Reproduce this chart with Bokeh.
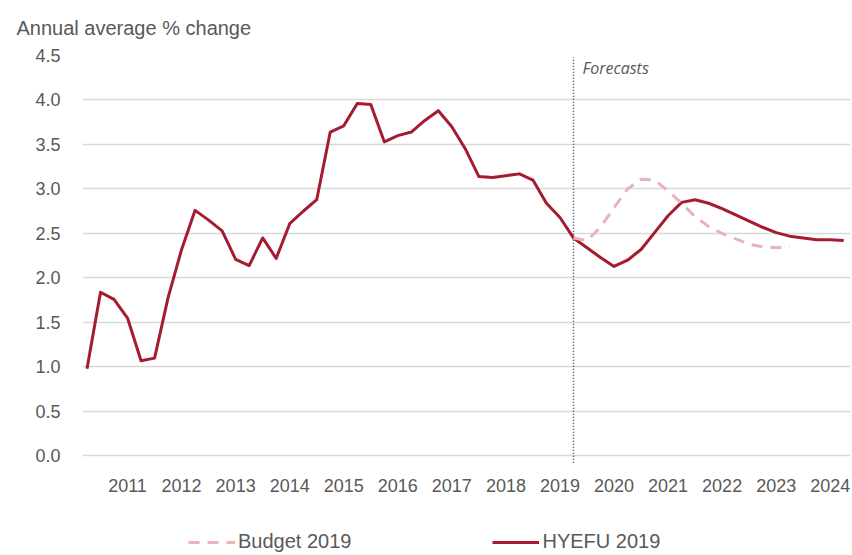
import pandas as pd
from bokeh.plotting import figure
from bokeh.models import (Label, Legend, LegendItem, FixedTicker,
                          NumeralTickFormatter, Range1d, ColumnDataSource)
from bokeh.embed import file_html
from bokeh.resources import INLINE

# ---------------- data ----------------
quarters = [str(q) for q in pd.period_range("2010Q2", "2024Q2", freq="Q")]

hyefu_2019 = [0.98, 1.84, 1.76, 1.55, 1.07, 1.10, 1.78, 2.32, 2.76, 2.65,
              2.53, 2.21, 2.14, 2.45, 2.22, 2.61, 2.75, 2.88, 3.64, 3.71,
              3.96, 3.95, 3.53, 3.60, 3.64, 3.77, 3.88, 3.70, 3.45, 3.14,
              3.13, 3.15, 3.17, 3.10, 2.84, 2.68, 2.45, 2.34, 2.23, 2.13,
              2.20, 2.32, 2.51, 2.70, 2.85, 2.88, 2.84, 2.78, 2.71, 2.64,
              2.57, 2.51, 2.47, 2.45, 2.43, 2.43, 2.42]

budget_quarters = [str(q) for q in pd.period_range("2019Q2", "2023Q2", freq="Q")]
budget_2019 = [2.45, 2.42, 2.57, 2.79, 3.00, 3.11, 3.10, 2.98, 2.84, 2.69,
               2.58, 2.50, 2.44, 2.38, 2.35, 2.34, 2.35]

forecast_start = "2019Q2"
year_labels = ["2011", "2012", "2013", "2014", "2015", "2016", "2017",
               "2018", "2019", "2020", "2021", "2022", "2023", "2024"]
y_ticks = [0.0, 0.5, 1.0, 1.5, 2.0, 2.5, 3.0, 3.5, 4.0, 4.5]

# ---------------- helpers ----------------
qidx = {q: i for i, q in enumerate(quarters)}
year_ticks = [qidx[f"{y}Q1"] for y in year_labels]

src_h = ColumnDataSource(dict(x=[qidx[q] for q in quarters], y=hyefu_2019))
src_b = ColumnDataSource(dict(x=[qidx[q] for q in budget_quarters], y=budget_2019))

FONT = "Liberation Sans"
GREY = "#595959"
RED = "#A51C30"
PINK = "#E8B2BE"

Y_MIN, Y_MAX = -1.118, 4.5
p = figure(width=852, height=555, output_backend="svg", toolbar_location=None,
           x_axis_location="above",
           x_range=Range1d(-0.333, 56.5), y_range=Range1d(Y_MIN, Y_MAX),
           min_border_left=82, min_border_right=2, min_border_top=55,
           min_border_bottom=0)
p.outline_line_color = None
p.background_fill_color = "white"
p.border_fill_color = "white"

# title
p.title.text = "Annual average % change"
p.title.align = "left"
p.title.offset = -66
p.title.text_font = FONT
p.title.text_font_size = "20px"
p.title.text_font_style = "normal"
p.title.text_color = GREY
p.title.vertical_align = "top"
p.title.standoff = 29

# axes
p.xaxis.ticker = FixedTicker(ticks=year_ticks)
p.xaxis.major_label_overrides = {t: l for t, l in zip(year_ticks, year_labels)}
p.xaxis.fixed_location = -0.399
p.yaxis.ticker = FixedTicker(ticks=y_ticks)
p.yaxis.formatter = NumeralTickFormatter(format="0.0")
for ax in (p.xaxis, p.yaxis):
    ax.axis_line_color = None
    ax.major_tick_line_color = None
    ax.minor_tick_line_color = None
    ax.major_tick_out = 0
    ax.major_tick_in = 0
    ax.major_label_text_font = FONT
    ax.major_label_text_color = GREY
p.xaxis.major_label_text_font_size = "18px"
p.yaxis.major_label_text_font_size = "18px"
p.xaxis.major_label_standoff = 0
p.yaxis.major_label_standoff = 22

p.xgrid.visible = False
p.ygrid.ticker = FixedTicker(ticks=y_ticks)
p.ygrid.grid_line_color = "#D9D9D9"
p.ygrid.grid_line_width = 1.5

# forecast divider (from just below the 0 line up to the top gridline)
fx = qidx[forecast_start]
p.segment(x0=[fx], y0=[-0.075], x1=[fx], y1=[4.48],
          line_color="#404040", line_width=1.5, line_dash="1 2")

# series
rh = p.line("x", "y", source=src_h, line_color=RED, line_width=3,
            line_join="round")
rb = p.line("x", "y", source=src_b, line_color=PINK, line_width=3,
            line_dash="11 8")

p.add_layout(Label(x=fx, y=4.5, x_offset=9, y_offset=-1,
                   text="Forecasts", text_font="Open Sans",
                   text_font_style="italic", text_font_size="16px",
                   text_color=GREY, text_baseline="top", text_align="left"))

legend = Legend(items=[LegendItem(label="Budget 2019", renderers=[rb]),
                       LegendItem(label="HYEFU 2019", renderers=[rh])],
                orientation="horizontal", location=(106, 2),
                glyph_width=47, glyph_height=16, label_height=16,
                label_standoff=3, spacing=141, padding=0, margin=0,
                border_line_alpha=0, background_fill_alpha=0,
                label_text_font=FONT, label_text_font_size="20px",
                label_text_color=GREY)
p.add_layout(legend, "center")

open("out.html", "w").write(file_html(p, INLINE))
